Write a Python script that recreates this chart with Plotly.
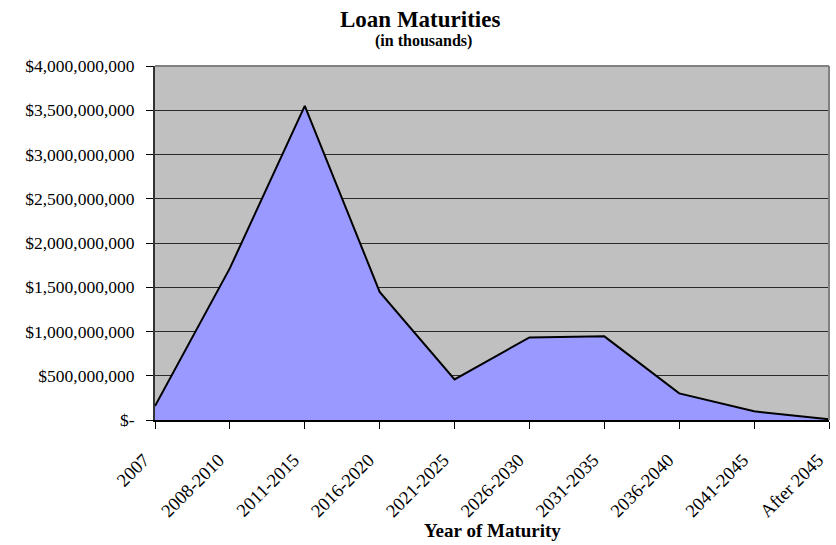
import plotly.graph_objects as go

categories = ["2007", "2008-2010", "2011-2015", "2016-2020", "2021-2025",
              "2026-2030", "2031-2035", "2036-2040", "2041-2045", "After 2045"]
values = [158e6, 1716e6, 3550e6, 1448e6, 459e6, 933e6, 945e6, 301e6, 98e6, 8e6]
ytick_vals = [0, 500e6, 1000e6, 1500e6, 2000e6, 2500e6, 3000e6, 3500e6, 4000e6]
ytick_text = ["$-", "$500,000,000", "$1,000,000,000", "$1,500,000,000", "$2,000,000,000",
              "$2,500,000,000", "$3,000,000,000", "$3,500,000,000", "$4,000,000,000"]

serif = "Liberation Serif, Times New Roman, serif"

fig = go.Figure()
fig.add_trace(go.Scatter(
    x=categories, y=values, mode="lines", fill="tozeroy",
    fillcolor="#9999FF", line=dict(color="black", width=2),
    hoverinfo="x+y", showlegend=False,
))

PH = 354.0  # plot height in px (for placing annotations)
fig.update_layout(
    width=836, height=545,
    margin=dict(l=155, r=7, t=66, b=125, autoexpand=False),
    paper_bgcolor="white", plot_bgcolor="#C0C0C0",
    font=dict(family=serif, size=16, color="black"),
    xaxis=dict(
        type="category", range=[0, 9], showgrid=False,
        showline=True, linecolor="black", linewidth=2,
        ticks="outside", ticklen=7, tickcolor="black", tickangle=-45,
        tickfont=dict(family=serif, size=18.5),
        ticklabelstandoff=13, ticklabelshift=-11,
        zeroline=False,
    ),
    yaxis=dict(
        range=[0, 4000e6], tickvals=ytick_vals, ticktext=ytick_text,
        showgrid=True, gridcolor="#2a2a2a", gridwidth=1,
        showline=True, linecolor="#333333", linewidth=2,
        ticks="outside", ticklen=7, tickcolor="black",
        tickfont=dict(family=serif, size=17.5), zeroline=False,
        ticklabelstandoff=8,
    ),
    shapes=[
        dict(type="line", xref="paper", yref="paper", x0=0, x1=1, y0=1, y1=1,
             line=dict(color="#808080", width=2)),
        dict(type="line", xref="paper", yref="paper", x0=1, x1=1, y0=0, y1=1,
             line=dict(color="#808080", width=2)),
    ],
    annotations=[
        dict(text="<b>Loan Maturities</b>", xref="paper", yref="paper",
             x=(420 - 155) / 674.0, y=1 + (66 - 19) / PH, xanchor="center", yanchor="middle",
             showarrow=False, font=dict(family=serif, size=23, color="black")),
        dict(text="<b>(in thousands)</b>", xref="paper", yref="paper",
             x=(423 - 155) / 674.0, y=1 + (66 - 41) / PH, xanchor="center", yanchor="middle",
             showarrow=False, font=dict(family=serif, size=16, color="black")),
        dict(text="<b>Year of Maturity</b>", xref="paper", yref="paper",
             x=0.5, y=-(530 - 420) / PH, xanchor="center", yanchor="middle",
             showarrow=False, font=dict(family=serif, size=19, color="black")),
    ],
)

fig.write_html("out.html")
